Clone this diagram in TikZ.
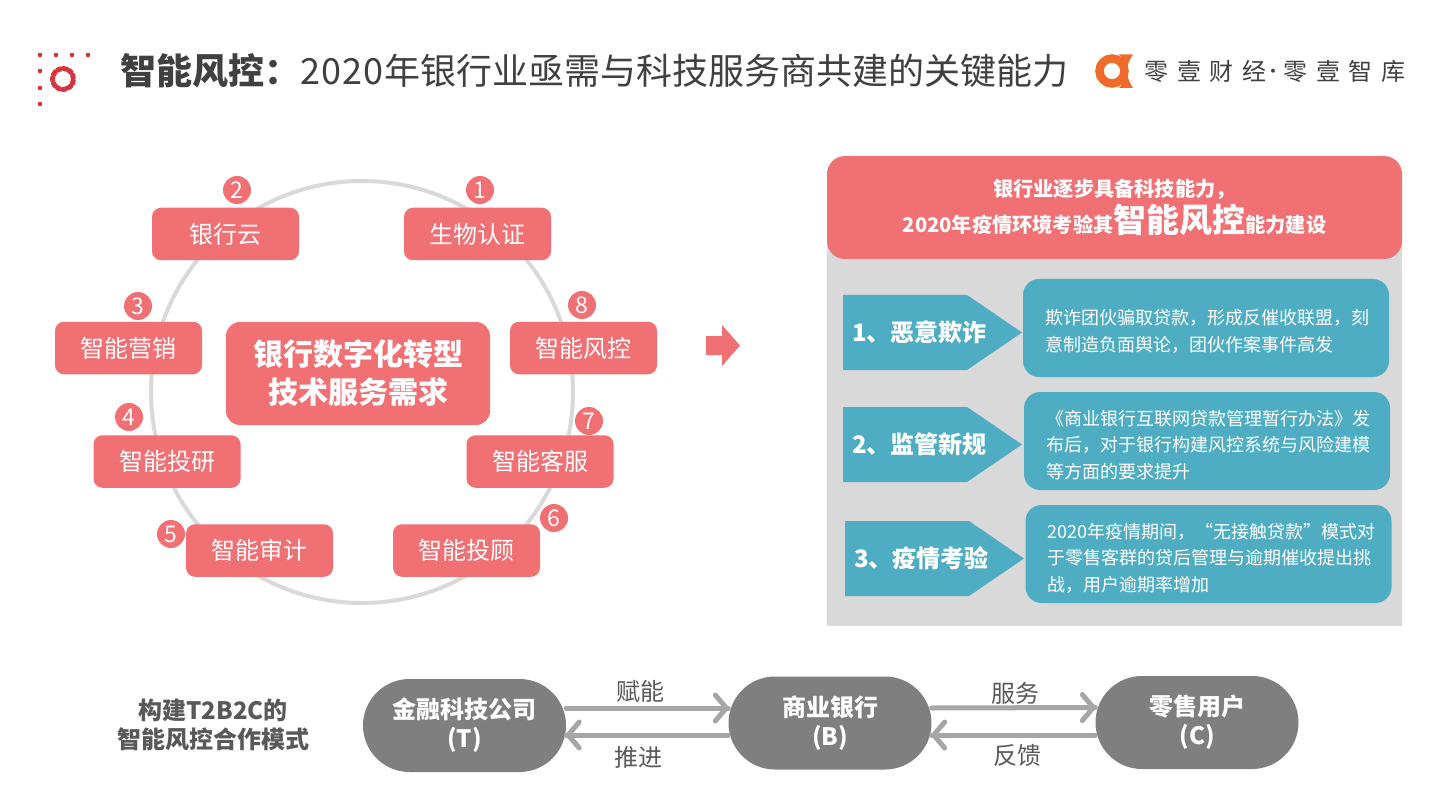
\documentclass[tikz,border=0pt]{standalone}
\usepackage{fontspec}
\setmainfont{Noto Sans CJK SC}
\newfontfamily\logofont[LetterSpace=36]{Noto Sans CJK SC}
\usetikzlibrary{shapes.misc,calc}
\definecolor{pinkc}{HTML}{F07074}
\definecolor{bluec}{HTML}{4FADC3}
\definecolor{greyp}{HTML}{D9D9D9}
\definecolor{titlec}{HTML}{404040}
\definecolor{pillc}{HTML}{7F7F7F}
\definecolor{arrowc}{HTML}{A6A6A6}
\definecolor{labelc}{HTML}{595959}
\definecolor{logoc}{HTML}{EE6B2B}
\definecolor{dotc}{HTML}{D5353F}
\newcommand{\fs}[2]{\fontsize{#1}{#2}\selectfont}
\tikzset{
  x=1pt,y=-1pt,
  pinkbox/.style={fill=pinkc,rounded corners=9pt,minimum width=147pt,minimum height=52.5pt,inner sep=0pt,text=white,font=\fs{24}{30}},
  numdot/.style={circle,fill=pinkc,minimum size=28pt,inner sep=0pt,text=white,font=\fs{23}{26}},
  infobox/.style={fill=bluec,rounded corners=16pt,minimum width=366pt,minimum height=98pt,inner sep=0pt},
  infotext/.style={text=white,align=left,inner sep=0pt,anchor=west,font=\fs{18}{26.5}},
  tag/.style={fill=bluec},
  taglabel/.style={text=white,font=\fs{24}{30}\bfseries,inner sep=0pt,anchor=west},
  pill/.style={rounded rectangle,fill=pillc,minimum width=203pt,minimum height=93pt,inner sep=0pt,text=white,align=center,font=\fs{24}{29}\bfseries},
  flow/.style={draw=arrowc,line width=5pt,line cap=round,line join=round},
  flowlabel/.style={text=labelc,font=\fs{24}{30},inner sep=0pt},
  reddot/.style={fill=dotc},
  brandtext/.style={anchor=west,inner sep=0pt,text=titlec,font=\logofont\fs{24}{30}},
}
\begin{document}
\begin{tikzpicture}
\useasboundingbox (0,0) rectangle (1440,810);
\fill[white] (0,0) rectangle (1440,810);

% corner mark
\foreach \p in {(40,55),(56,55),(72,55),(88,55),(40,71),(40,88),(40,104)}
  \fill[reddot] \p circle (2.3pt);
\draw[dotc,line width=5pt,densely dotted] (63,79) circle (10.5pt);
\draw[dotc,line width=3.4pt] (63,79) circle (10.5pt);

% title
\node[anchor=west,inner sep=0pt,text=titlec,font=\fs{36}{40}] (title) at (120,71) {\textbf{智能风控：}2\kern1pt0\kern1pt2\kern1pt0\kern1pt年银行业亟需与科技服务商共建的关键能力};

% logo
\draw[logoc,line width=8.5pt] (1112,71) circle (12.5pt);
\fill[logoc] (1133,54.5) -- (1119,54.5) .. controls (1124,60) and (1125,66) .. (1125,71) .. controls (1125,76) and (1124,82) .. (1119,88) -- (1133,88) .. controls (1129,82) and (1127,76) .. (1127,71) .. controls (1127,66) and (1129,60) .. (1133,54.5) -- cycle;
\node[brandtext] (brandA) at (1144.5,71) {零壹财经\kern-9pt};
\node[inner sep=0pt,text=titlec,font=\fs{14}{16}\bfseries] (brandDot) at (1273,73) {·};
\node[brandtext] (brandB) at (1283.5,71) {零壹智库\kern-9pt};

% ring
\draw[greyp,line width=4pt] (362,392) circle (211pt);

% service boxes
\node[pinkbox] (s1) at (477.5,234) {生物认证};
\node[pinkbox] (s2) at (225.5,234) {银行云};
\node[pinkbox] (s3) at (128.5,348) {智能营销};
\node[pinkbox] (s8) at (583.5,348) {智能风控};
\node[pinkbox] (s4) at (167,461.5) {智能投研};
\node[pinkbox] (s7) at (540,461.5) {智能客服};
\node[pinkbox] (s5) at (259.5,550.5) {智能审计};
\node[pinkbox] (s6) at (466.5,550.5) {智能投顾};
\node[pinkbox,minimum width=264pt,minimum height=103pt,rounded corners=14pt,align=center,font=\fs{30}{38}\bfseries] (core) at (358,373.5) {银行数字化转型\\技术服务需求};

\node[numdot] (n1) at (480,190) {1};
\node[numdot] (n2) at (237,190) {2};
\node[numdot] (n3) at (138,306) {3};
\node[numdot] (n8) at (582,305) {8};
\node[numdot] (n4) at (129,417) {4};
\node[numdot] (n7) at (589,421) {7};
\node[numdot] (n5) at (171,534) {5};
\node[numdot] (n6) at (554,518) {6};

% block arrow
\fill[pinkc] (706,336) -- (722,336) -- (722,325) -- (740,345.5) -- (722,366) -- (722,355) -- (706,355) -- cycle;

% right panel
\fill[greyp] (827,190) rectangle (1402,626);
\node[fill=pinkc,rounded corners=18pt,minimum width=575pt,minimum height=103pt,inner sep=0pt,text=white,align=center,font=\fs{20.2}{32}\bfseries] (head) at (1114.5,207.5)
  {银行业逐步具备科技能力，\\[4pt]2020年疫情环境考验其{\fs{33}{32}智能风控}能力建设};

% chevrons
\fill[tag] (843,295) -- (967,295) -- (1022,332.5) -- (967,370) -- (843,370) -- cycle;
\fill[tag] (843,407) -- (967,407) -- (1022,444.5) -- (967,482) -- (843,482) -- cycle;
\fill[tag] (845,521) -- (969,521) -- (1024,558.5) -- (969,596) -- (845,596) -- cycle;
\node[taglabel] (t1) at (852,332.5) {1、恶意欺诈};
\node[taglabel] (t2) at (852,444.5) {2、监管新规};
\node[taglabel] (t3) at (854,558.5) {3、疫情考验};

% info boxes
\node[infobox] (i1) at (1206,328) {};
\node[infobox] (i2) at (1207,441) {};
\node[infobox] (i3) at (1208.5,554) {};
\node[infotext] (x1) at (1045,331.5) {欺诈团伙骗取贷款，形成反催收联盟，刻\\意制造负面舆论，团伙作案事件高发};
\node[infotext] (x2) at (1046,445) {《商业银行互联网贷款管理暂行办法》发\\布后，对于银行构建风控系统与风险建模\\等方面的要求提升};
\node[infotext] (x3) at (1047,558) {2020年疫情期间，“无接触贷款”模式对\\于零售客群的贷后管理与逾期催收提出挑\\战，用户逾期率增加};

% bottom row
\node[text=labelc,align=center,inner sep=0pt,font=\fs{24}{29}\bfseries] (model) at (213,725) {构建T2B2C的\\智能风控合作模式};
\node[pill] (T) at (464.5,725.5) {金融科技公司\\(T)};
\node[pill] (B) at (830,723) {商业银行\\(B)};
\node[pill] (C) at (1197,722.5) {零售用户\\(C)};

\coordinate (ts) at ([yshift=17.5pt]T.east);
\coordinate (tl) at ([yshift=-9.5pt]T.east);
\coordinate (bw) at ([yshift=15pt]B.west);
\coordinate (bl) at ([yshift=-12pt]B.west);
\coordinate (be) at ([yshift=15pt]B.east);
\coordinate (bm) at ([yshift=-12pt]B.east);
\coordinate (cw) at ([yshift=15pt]C.west);
\coordinate (cl) at ([yshift=-12.5pt]C.west);

\foreach \a/\b in {ts/bw,bl/tl,be/cw,cl/bm}{
  \draw[flow] (\a) -- (\b);
  \draw[flow] ($(\b)!13pt!(\a)+(0,-13)$) -- ($(\b)!2pt!(\a)$) -- ($(\b)!13pt!(\a)+(0,13)$);
}

\node[flowlabel] (l1) at (640,691) {赋能};
\node[flowlabel] (l2) at (638,757) {推进};
\node[flowlabel] (l3) at (1015,693) {服务};
\node[flowlabel] (l4) at (1017,755) {反馈};
\end{tikzpicture}
\end{document}
